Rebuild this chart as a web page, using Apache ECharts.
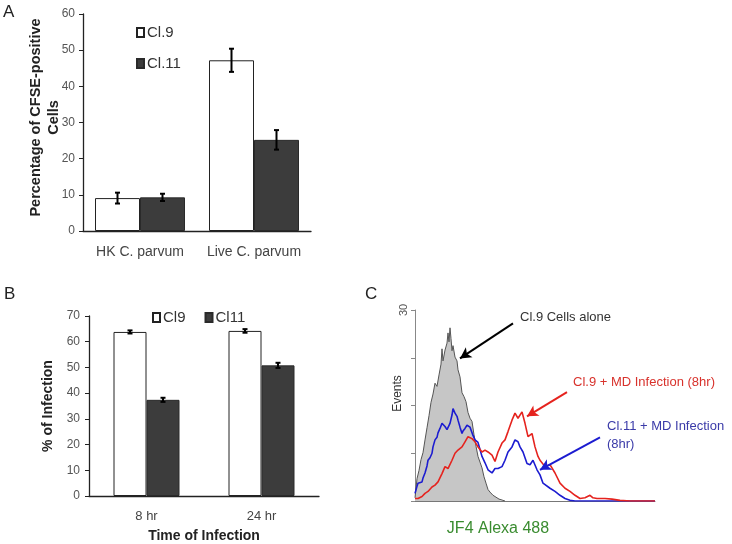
<!DOCTYPE html>
<html><head><meta charset="utf-8">
<script src="https://cdn.jsdelivr.net/npm/echarts@6/dist/echarts.min.js"></script>
<style>html,body{margin:0;padding:0;background:#fff}#c{width:732px;height:544px}</style>
</head><body><div id="c"></div>
<script>
// ---- Panel A data ----
const catsA = ['HK C. parvum', 'Live C. parvum'];
const cl9A = [9.1, 47.2];
const cl9AErr = [1.5, 3.2];
const cl11A = [9.3, 25.2];
const cl11AErr = [1.0, 2.7];
// ---- Panel B data ----
const catsB = ['8 hr', '24 hr'];
const cl9B = [63.8, 64.2];
const cl9BErr = [0.6, 0.7];
const cl11B = [37.4, 50.8];
const cl11BErr = [0.8, 1.0];
// ---- Panel C histograms [channel, events] ----
const histAlone = [[0,0.5],[2,3.5],[4,4.8],[6,6.5],[8,7.6],[10,9.6],[12,11.5],[14,13.4],[16,15.5],[18,16.8],[20,18.5],[22,18.0],[24,19.8],[26,21.5],[27,23.9],[28,22.0],[30,23.7],[32,24.8],[33,26.4],[34,25.0],[35,27.2],[36,25.5],[37,23.6],[38,24.4],[40,22.6],[42,22.0],[43,20.6],[45,19.5],[47,17.0],[49,16.4],[51,15.6],[53,13.9],[55,13.0],[57,12.5],[59,10.4],[61,8.6],[63,7.0],[65,6.1],[67,5.2],[69,3.8],[71,2.8],[73,1.8],[75,1.4],[78,0.9],[81,0.6],[84,0.3],[88,0.1],[90,0]];
const histCl11MD = [[0,1.2],[2,2.3],[3,2.8],[5,2.6],[7,3.0],[8,3.6],[10,4.4],[12,5.5],[13,6.4],[15,6.8],[17,7.5],[18,8.5],[20,9.6],[22,10.0],[23,10.7],[25,11.4],[27,12.2],[28,12.0],[30,11.7],[32,11.2],[33,10.9],[35,12.2],[37,13.5],[38,14.5],[40,13.8],[42,13.3],[43,12.7],[45,11.6],[47,10.6],[48,11.0],[50,11.4],[52,11.9],[53,12.2],[55,11.6],[57,11.4],[58,10.3],[60,9.6],[62,9.8],[63,9.2],[67,7.0],[70,6.0],[73,4.9],[77,4.4],[80,5.1],[83,5.1],[87,5.4],[90,6.4],[93,7.7],[97,8.5],[100,9.6],[102,9.8],[103,9.3],[105,8.5],[108,7.7],[112,5.9],[115,5.7],[118,6.4],[122,4.9],[125,4.1],[128,2.8],[130,2.5],[135,2.0],[140,1.5],[145,0.9],[150,0.4],[155,0.1],[160,0],[240,0]];
const histCl9MD = [[0,0.4],[3,0.4],[7,0.7],[10,1.2],[13,1.5],[17,2.2],[20,2.5],[23,3.0],[27,4.3],[30,5.4],[33,5.1],[37,6.4],[40,7.5],[43,8.0],[47,8.5],[50,9.3],[53,10.1],[57,9.8],[60,9.3],[63,8.5],[67,7.7],[70,8.0],[73,7.7],[77,7.2],[80,6.2],[83,7.7],[87,9.1],[90,9.6],[93,10.9],[97,12.7],[100,13.8],[103,13.0],[107,14.0],[110,12.2],[113,10.1],[117,10.6],[120,8.5],[123,7.0],[125,6.4],[127,6.2],[130,5.4],[135,5.7],[140,4.4],[145,2.8],[150,2.0],[155,1.5],[160,0.9],[165,0.4],[170,0.5],[175,0.9],[178,0.5],[182,0.4],[190,0.4],[197,0.3],[205,0.1],[215,0],[240,0]];
// annotation arrows [from, to] in data units
const arrowAlone = [[98, 27.9], [45, 22.4]];
const arrowCl9 = [[152, 17.1], [112, 13.3]];
const arrowCl11 = [[185, 10.0], [125, 4.9]];

const FONT = 'Arial, "Liberation Sans", sans-serif';
const BW_A = 45, BW_B = 33;

function errRender(offset, cap) {
  return function (params, api) {
    const c = api.coord([api.value(0), api.value(1)]);
    const hi = api.coord([api.value(0), api.value(1) + api.value(2)]);
    const lo = api.coord([api.value(0), api.value(1) - api.value(2)]);
    const x = c[0] + offset;
    const st = { stroke: '#000', lineWidth: 2 };
    return { type: 'group', children: [
      { type: 'line', shape: { x1: x, y1: hi[1], x2: x, y2: lo[1] }, style: st },
      { type: 'line', shape: { x1: x - cap, y1: hi[1], x2: x + cap, y2: hi[1] }, style: st },
      { type: 'line', shape: { x1: x - cap, y1: lo[1], x2: x + cap, y2: lo[1] }, style: st }
    ]};
  };
}
const errData = (vals, errs) => vals.map((v, i) => [i, v, errs[i]]);
function arrow(pts, color) {
  return {
    silent: true, symbol: ['none', 'arrow'], symbolSize: [9, 11], animation: false,
    label: { show: false }, lineStyle: { color: color, width: 2, type: 'solid' },
    emphasis: { disabled: true },
    data: [[{ coord: pts[0] }, { coord: pts[1] }]]
  };
}

const axisDark = { lineStyle: { color: '#222', width: 1.3 } };
const chart = echarts.init(document.getElementById('c'));
chart.setOption({
  animation: false,
  textStyle: { fontFamily: FONT },
  grid: [
    { left: 83, top: 14, width: 228, height: 217 },
    { left: 89, top: 316, width: 230, height: 181 },
    { left: 415, top: 310, width: 240, height: 191 }
  ],
  legend: [
    { data: ['Cl.9', 'Cl.11'], orient: 'vertical', left: 131, top: 20, icon: 'rect', itemWidth: 7, itemHeight: 9, itemGap: 16,
      textStyle: { fontSize: 15, color: '#333', fontFamily: FONT, padding: [0, 0, 0, -2] } },
    { data: ['Cl9', 'Cl11'], orient: 'horizontal', left: 147, top: 305, icon: 'rect', itemWidth: 7, itemHeight: 9, itemGap: 19,
      textStyle: { fontSize: 15, color: '#333', fontFamily: FONT, padding: [0, 0, 0, -2] } }
  ],
  xAxis: [
    { gridIndex: 0, type: 'category', data: catsA, axisLine: axisDark,
      axisTick: { length: 5, lineStyle: { color: '#222' } },
      axisLabel: { color: '#444', fontSize: 14, margin: 14, interval: 0, hideOverlap: false } },
    { gridIndex: 1, type: 'category', data: catsB, axisLine: axisDark,
      axisTick: { length: 5, lineStyle: { color: '#222' } },
      axisLabel: { color: '#444', fontSize: 13, margin: 14, interval: 0 },
      name: 'Time of Infection', nameLocation: 'middle', nameGap: 33, nameMoveOverlap: false,
      nameTextStyle: { fontWeight: 'bold', fontSize: 14, color: '#222' } },
    { gridIndex: 2, type: 'value', min: 0, max: 240, axisLine: { lineStyle: { color: '#777', width: 1 } },
      axisTick: { show: false }, axisLabel: { show: false }, splitLine: { show: false },
      name: 'JF4 Alexa 488', nameLocation: 'middle', nameGap: 20, nameMoveOverlap: false,
      nameTextStyle: { color: '#3a8c30', fontSize: 16, padding: [0, 74, 0, 0] } }
  ],
  yAxis: [
    { gridIndex: 0, type: 'value', min: 0, max: 60, interval: 10, splitLine: { show: false },
      axisLine: Object.assign({ show: true }, axisDark), axisTick: { show: true, length: 4, lineStyle: { color: '#222' } },
      axisLabel: { color: '#555', fontSize: 12, margin: 8 },
      name: 'Percentage of CFSE-positive\nCells', nameLocation: 'middle', nameGap: 20, nameMoveOverlap: false,
      nameTextStyle: { fontWeight: 'bold', fontSize: 14.5, color: '#222', lineHeight: 18, padding: [0, 0, 0, 10] } },
    { gridIndex: 1, type: 'value', min: 0, max: 70, interval: 10, splitLine: { show: false },
      axisLine: Object.assign({ show: true }, axisDark), axisTick: { show: true, length: 4, lineStyle: { color: '#222' } },
      axisLabel: { color: '#555', fontSize: 12, margin: 9 },
      name: '% of Infection', nameLocation: 'middle', nameGap: 34, nameMoveOverlap: false,
      nameTextStyle: { fontWeight: 'bold', fontSize: 14, color: '#222' } },
    { gridIndex: 2, type: 'value', min: 0, max: 30, interval: 7.5, splitLine: { show: false },
      axisLine: { show: true, lineStyle: { color: '#888', width: 1 } },
      axisTick: { show: true, length: 4, lineStyle: { color: '#888' } },
      axisLabel: { color: '#555', fontSize: 11, rotate: 90, margin: 6, formatter: v => (v === 30 ? '30' : '') },
      name: 'Events', nameLocation: 'middle', nameGap: 11, nameMoveOverlap: false,
      nameTextStyle: { fontSize: 12, color: '#333', padding: [0, 0, 0, 24] } }
  ],
  series: [
    { name: 'Cl.9', type: 'bar', xAxisIndex: 0, yAxisIndex: 0, data: cl9A, barWidth: BW_A, barGap: '0%',
      itemStyle: { color: '#fff', borderColor: '#222', borderWidth: 1 } },
    { name: 'Cl.11', type: 'bar', xAxisIndex: 0, yAxisIndex: 0, data: cl11A, barWidth: BW_A, barGap: '0%',
      itemStyle: { color: '#3c3c3c', borderColor: '#2a2a2a', borderWidth: 1 } },
    { type: 'custom', xAxisIndex: 0, yAxisIndex: 0, data: errData(cl9A, cl9AErr), renderItem: errRender(-BW_A / 2, 2.5), z: 5, silent: true },
    { type: 'custom', xAxisIndex: 0, yAxisIndex: 0, data: errData(cl11A, cl11AErr), renderItem: errRender(BW_A / 2, 2.5), z: 5, silent: true },
    { name: 'Cl9', type: 'bar', xAxisIndex: 1, yAxisIndex: 1, data: cl9B, barWidth: BW_B, barGap: '0%',
      itemStyle: { color: '#fff', borderColor: '#222', borderWidth: 1 } },
    { name: 'Cl11', type: 'bar', xAxisIndex: 1, yAxisIndex: 1, data: cl11B, barWidth: BW_B, barGap: '0%',
      itemStyle: { color: '#3c3c3c', borderColor: '#2a2a2a', borderWidth: 1 } },
    { type: 'custom', xAxisIndex: 1, yAxisIndex: 1, data: errData(cl9B, cl9BErr), renderItem: errRender(-BW_B / 2, 2.5), z: 5, silent: true },
    { type: 'custom', xAxisIndex: 1, yAxisIndex: 1, data: errData(cl11B, cl11BErr), renderItem: errRender(BW_B / 2, 2.5), z: 5, silent: true },
    { name: 'Cl.9 Cells alone', type: 'line', xAxisIndex: 2, yAxisIndex: 2, data: histAlone, showSymbol: false,
      lineStyle: { color: '#555', width: 1 }, areaStyle: { color: '#c6c6c6', opacity: 1 }, z: 2,
      markLine: arrow(arrowAlone, '#000') },
    { name: 'Cl.11 + MD Infection (8hr)', type: 'line', xAxisIndex: 2, yAxisIndex: 2, data: histCl11MD, showSymbol: false,
      lineStyle: { color: '#1c1cd0', width: 1.6 }, z: 3, markLine: arrow(arrowCl11, '#1c1cd0') },
    { name: 'Cl.9 + MD Infection (8hr)', type: 'line', xAxisIndex: 2, yAxisIndex: 2, data: histCl9MD, showSymbol: false,
      lineStyle: { color: '#e5231e', width: 1.6 }, z: 4, markLine: arrow(arrowCl9, '#e5231e') }
  ],
  graphic: [
    { type: 'text', left: 3, top: 4, style: { text: 'A', fontSize: 17, fill: '#222', fontFamily: FONT } },
    { type: 'text', left: 4, top: 286, style: { text: 'B', fontSize: 17, fill: '#222', fontFamily: FONT } },
    { type: 'text', left: 365, top: 286, style: { text: 'C', fontSize: 17, fill: '#222', fontFamily: FONT } },
    { type: 'text', left: 520, top: 311, style: { text: 'Cl.9 Cells alone', fontSize: 13, fill: '#333', fontFamily: FONT } },
    { type: 'text', left: 573, top: 376, style: { text: 'Cl.9 + MD Infection (8hr)', fontSize: 13, fill: '#d8322c', fontFamily: FONT } },
    { type: 'text', left: 607, top: 417, style: { text: 'Cl.11 + MD Infection\n(8hr)', fontSize: 13, lineHeight: 18, fill: '#3a3aa8', fontFamily: FONT } }
  ]
});
</script></body></html>
